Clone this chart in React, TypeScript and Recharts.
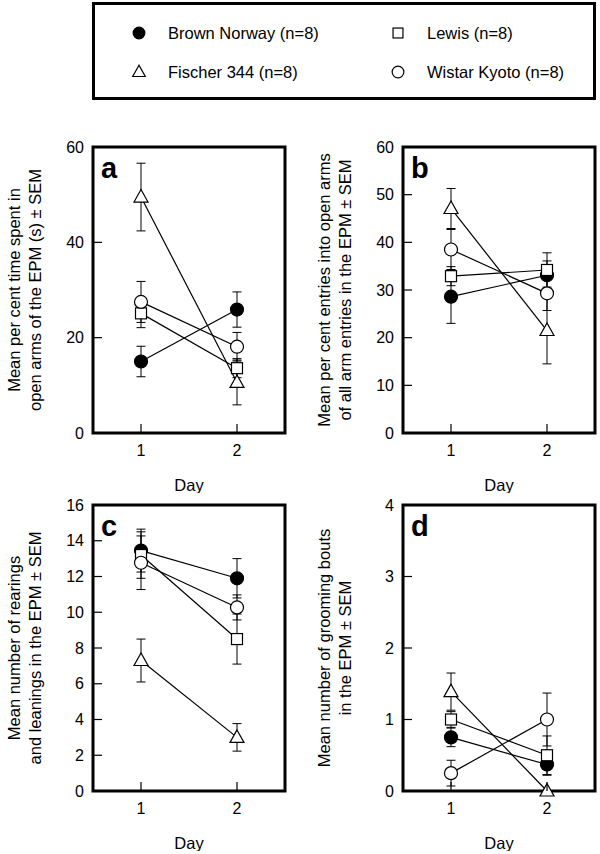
import React from 'react';
import { LineChart, Line, XAxis, YAxis, ErrorBar, ReferenceArea } from 'recharts';

const FONT = '"Liberation Sans", Arial, sans-serif';

const days = [1, 2];
// strain order: Brown Norway, Lewis, Fischer 344, Wistar Kyoto
const strains = ['Brown Norway (n=8)', 'Lewis (n=8)', 'Fischer 344 (n=8)', 'Wistar Kyoto (n=8)'];
const markerKinds = ['filledCircle', 'square', 'triangle', 'circle'];
// draw order so that the white markers sit on top like in the figure
const drawOrder = [2, 0, 1, 3];

const openTimeMean = [[15.0, 25.9], [25.1, 13.6], [49.5, 10.6], [27.5, 18.1]];
const openTimeSem = [[3.2, 3.7], [3.0, 2.0], [7.1, 4.7], [4.3, 3.0]];
const openTimeTicks = [0, 20, 40, 60];

const openEntryMean = [[28.6, 33.1], [32.9, 34.2], [47.1, 21.5], [38.5, 29.3]];
const openEntrySem = [[5.6, 3.0], [2.0, 3.6], [4.2, 7.0], [4.2, 3.6]];
const openEntryTicks = [0, 10, 20, 30, 40, 50, 60];

const rearingMean = [[13.45, 11.9], [13.2, 8.5], [7.3, 3.0], [12.77, 10.27]];
const rearingSem = [[1.2, 1.1], [1.3, 1.4], [1.2, 0.77], [1.5, 0.7]];
const rearingTicks = [0, 2, 4, 6, 8, 10, 12, 14, 16];

const groomingMean = [[0.75, 0.37], [1.0, 0.5], [1.39, 0.0], [0.25, 1.0]];
const groomingSem = [[0.13, 0.15], [0.11, 0.27], [0.26, 0.0], [0.18, 0.37]];
const groomingTicks = [0, 1, 2, 3, 4];

function Marker({ kind, cx, cy, scale = 1 }: { kind: string; cx: number; cy: number; scale?: number }) {
  const sw = 1.2;
  if (kind === 'filledCircle') {
    return <circle cx={cx} cy={cy} r={6.5 * scale} fill="#000" stroke="#000" strokeWidth={sw} />;
  }
  if (kind === 'circle') {
    return <circle cx={cx} cy={cy} r={6.5 * scale} fill="#fff" stroke="#000" strokeWidth={sw} />;
  }
  if (kind === 'square') {
    const h = 5.5 * scale;
    return <rect x={cx - h} y={cy - h} width={2 * h} height={2 * h} fill="#fff" stroke="#000" strokeWidth={sw} />;
  }
  const w = 7 * scale;
  return (
    <polygon
      points={`${cx},${cy - 7.5 * scale} ${cx - w},${cy + 5 * scale} ${cx + w},${cy + 5 * scale}`}
      fill="#fff"
      stroke="#000"
      strokeWidth={sw}
    />
  );
}

const YTick = (props: any) => {
  const { x, y, payload } = props;
  return (
    <g>
      <line x1={x + 9} x2={x + 18} y1={y} y2={y} stroke="#000" strokeWidth={1.2} />
      <text x={x} y={y} textAnchor="end" dominantBaseline="central" fontSize={16} fontFamily={FONT} fill="#000">
        {payload.value}
      </text>
    </g>
  );
};

const XTick = (props: any) => {
  const { x, y, payload } = props;
  return (
    <g>
      <line x1={x} x2={x} y1={y - 9} y2={y} stroke="#000" strokeWidth={1.2} />
      <text x={x} y={y + 17} textAnchor="middle" dominantBaseline="central" fontSize={16} fontFamily={FONT} fill="#000">
        {payload.value}
      </text>
    </g>
  );
};

interface PanelProps {
  left: number;
  top: number;
  letter: string;
  means: number[][];
  sems: number[][];
  ticks: number[];
  labelLines: string[];
}

function Panel({ left, top, letter, means, sems, ticks, labelLines }: PanelProps) {
  const yMax = ticks[ticks.length - 1];
  const data = days.map((day, i) => {
    const row: Record<string, number> = { day };
    means.forEach((m, s) => {
      row['m' + s] = m[i];
      row['e' + s] = sems[s][i];
    });
    return row;
  });

  const yLabel = (props: any) => {
    const vb = props.viewBox;
    const cy = vb.y + vb.height / 2;
    const px = vb.x + vb.width;
    return (
      <g>
        {labelLines.map((t, i) => {
          const lx = px - 79 + i * 21;
          return (
            <text
              key={i}
              x={lx}
              y={cy}
              transform={`rotate(-90 ${lx} ${cy})`}
              textAnchor="middle"
              dominantBaseline="central"
              fontSize={16.5}
              fontFamily={FONT}
              fill="#000"
            >
              {t}
            </text>
          );
        })}
        <text x={px + 8} y={vb.y + 31} fontSize={29} fontWeight="bold" fontFamily={FONT} fill="#000">
          {letter}
        </text>
      </g>
    );
  };

  const xLabel = (props: any) => {
    const vb = props.viewBox;
    return (
      <text
        x={vb.x + vb.width / 2}
        y={vb.y + 52}
        textAnchor="middle"
        dominantBaseline="central"
        fontSize={16.5}
        fontFamily={FONT}
        fill="#000"
      >
        Day
      </text>
    );
  };

  return (
    <div style={{ position: 'absolute', left, top }}>
      <LineChart width={300} height={363} data={data} margin={{ top: 17, right: 15, bottom: 0, left: 0 }}>
        <XAxis
          type="number"
          dataKey="day"
          domain={[0.5, 2.5]}
          ticks={days}
          axisLine={false}
          tickLine={false}
          tickSize={0}
          tickMargin={0}
          tick={XTick}
          height={60}
          label={{ content: xLabel }}
        />
        <YAxis
          type="number"
          domain={[0, yMax]}
          ticks={ticks}
          axisLine={false}
          tickLine={false}
          tickSize={0}
          tickMargin={9}
          tick={YTick}
          width={93}
          label={{ content: yLabel }}
        />
        <ReferenceArea x1={0.5} x2={2.5} y1={0} y2={yMax} fill="none" stroke="#000" strokeWidth={3} />
        {drawOrder.map((s) => (
          <Line
            key={s}
            type="linear"
            dataKey={'m' + s}
            stroke="#000"
            strokeWidth={1.2}
            isAnimationActive={false}
            activeDot={false}
            dot={(p: any) => <Marker key={`${s}-${p.index}`} kind={markerKinds[s]} cx={p.cx} cy={p.cy} />}
          >
            <ErrorBar dataKey={'e' + s} direction="y" width={4.5} stroke="#000" strokeWidth={1} />
          </Line>
        ))}
      </LineChart>
    </div>
  );
}

const legendPos = [
  { x: 139, y: 33 },
  { x: 398, y: 33 },
  { x: 139, y: 72 },
  { x: 398, y: 72 },
];

function Legend() {
  return (
    <>
      <div
        style={{
          position: 'absolute',
          left: 92,
          top: 2,
          width: 504,
          height: 98,
          border: '3px solid #000',
          boxSizing: 'border-box',
        }}
      />
      {strains.map((name, s) => (
        <React.Fragment key={name}>
          <svg
            width={20}
            height={20}
            style={{ position: 'absolute', left: legendPos[s].x - 10, top: legendPos[s].y - 10 }}
          >
            <Marker kind={markerKinds[s]} cx={10} cy={10} scale={0.9} />
          </svg>
          <div
            style={{
              position: 'absolute',
              left: legendPos[s].x + 29,
              top: legendPos[s].y - 10,
              height: 20,
              lineHeight: '20px',
              fontSize: 16.5,
              fontFamily: FONT,
              whiteSpace: 'nowrap',
            }}
          >
            {name}
          </div>
        </React.Fragment>
      ))}
    </>
  );
}

export default function App() {
  return (
    <div
      style={{
        position: 'fixed',
        left: 0,
        top: 0,
        width: 600,
        height: 854,
        background: '#fff',
        fontFamily: FONT,
        overflow: 'hidden',
      }}
    >
      <Legend />
      <Panel
        left={0}
        top={130}
        letter="a"
        means={openTimeMean}
        sems={openTimeSem}
        ticks={openTimeTicks}
        labelLines={['Mean per cent time spent in', 'open arms of the EPM (s) ± SEM']}
      />
      <Panel
        left={310}
        top={130}
        letter="b"
        means={openEntryMean}
        sems={openEntrySem}
        ticks={openEntryTicks}
        labelLines={['Mean per cent entries into open arms', 'of all arm entries in the EPM ± SEM']}
      />
      <Panel
        left={0}
        top={488}
        letter="c"
        means={rearingMean}
        sems={rearingSem}
        ticks={rearingTicks}
        labelLines={['Mean number of rearings', 'and leanings in the EPM ± SEM']}
      />
      <Panel
        left={310}
        top={488}
        letter="d"
        means={groomingMean}
        sems={groomingSem}
        ticks={groomingTicks}
        labelLines={['Mean number of grooming bouts', 'in the EPM ± SEM']}
      />
    </div>
  );
}
